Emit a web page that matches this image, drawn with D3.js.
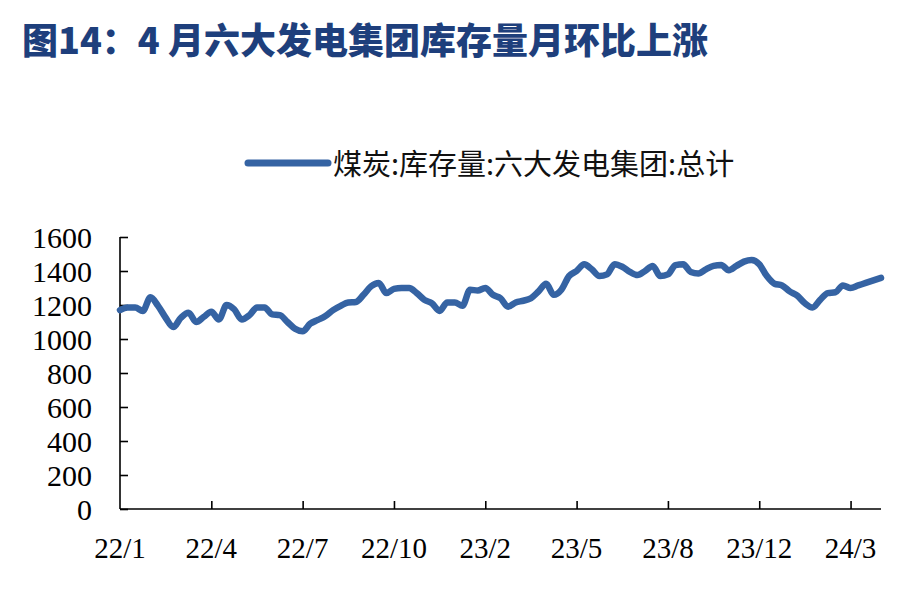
<!DOCTYPE html>
<html><head><meta charset="utf-8">
<script src="https://cdn.jsdelivr.net/npm/d3@7"></script>
<style>html,body{margin:0;padding:0;background:#fff;}svg{display:block;}</style>
</head><body>
<svg id="chart" width="922" height="596"></svg>
<script>
const titleText = "图14：4 月六大发电集团库存量月环比上涨";
const seriesName = "煤炭:库存量:六大发电集团:总计";
const tickLabels = ["22/1","22/4","22/7","22/10","23/2","23/5","23/8","23/12","24/3"];
const pointsPerTick = 12;
const yTicks = [0,200,400,600,800,1000,1200,1400,1600];
const values = [
 1170,1185,1185,1165,1245,1195,1125,1070,1125,1155,1100,1130,
 1160,1115,1200,1175,1115,1140,1185,1185,1145,1140,1100,1060,
 1045,1090,1112,1135,1170,1195,1215,1218,1260,1310,1330,1270,
 1295,1300,1300,1270,1230,1210,1165,1215,1215,1195,1290,1285,
 1300,1260,1240,1190,1215,1225,1240,1280,1325,1260,1290,1370,
 1400,1440,1410,1370,1380,1440,1425,1395,1376,1400,1430,1370,
 1380,1435,1440,1394,1385,1410,1430,1435,1405,1430,1455,1465,
 1440,1370,1325,1315,1280,1255,1210,1185,1230,1270,1275,1315,
 1300,1315,1330,1345,1360
];

(function () {
const svg = d3.select("#chart");
const mLeft = 120, mRight = 881, mTop = 237, mBottom = 509;
const lineColor = "#3563a3";

const x = d3.scaleLinear().domain([0, values.length - 1]).range([mLeft, mRight]);
const y = d3.scaleLinear().domain([0, 1600]).range([mBottom, mTop]);

// title
svg.append("text").attr("x", 22).attr("y", 54)
  .attr("font-family", "'Noto Sans CJK SC', sans-serif")
  .attr("font-weight", 900).attr("font-size", 36)
  .attr("fill", "#1e3f7c").text(titleText);

// legend
svg.append("line").attr("x1", 248).attr("x2", 328).attr("y1", 163).attr("y2", 163)
  .attr("stroke", lineColor).attr("stroke-width", 7).attr("stroke-linecap", "round");
svg.append("text").attr("x", 333).attr("y", 175)
  .attr("font-family", "'Noto Sans CJK SC', sans-serif")
  .attr("font-size", 29).attr("fill", "#111").text(seriesName);

// y axis
const yAxis = d3.axisRight(y).tickValues(yTicks).tickSize(8).tickFormat("");
const yg = svg.append("g").attr("transform", `translate(${mLeft},0)`).call(yAxis);
yg.select(".domain").attr("d", `M0,${mTop}V${mBottom}`);
yg.selectAll("path,line").attr("stroke", "#000").attr("stroke-width", 1.6);
svg.append("g").selectAll("text").data(yTicks).join("text")
  .attr("x", 92).attr("y", d => y(d)).attr("dy", "0.35em")
  .attr("text-anchor", "end")
  .attr("font-family", "'Liberation Serif', 'Times New Roman', serif")
  .attr("font-size", 30).attr("fill", "#000").text(d => d);

// x axis
const xTickIdx = tickLabels.map((_, i) => i * pointsPerTick);
const xAxis = d3.axisTop(x).tickValues(xTickIdx).tickSize(8).tickFormat("");
const xg = svg.append("g").attr("transform", `translate(0,${mBottom})`).call(xAxis);
xg.select(".domain").attr("d", `M${mLeft},0H${mRight}`);
xg.selectAll("path,line").attr("stroke", "#000").attr("stroke-width", 1.6);
xg.selectAll(".tick").filter(d => d === 0).remove();
svg.append("g").selectAll("text").data(tickLabels).join("text")
  .attr("x", (d, i) => x(xTickIdx[i])).attr("y", 558)
  .attr("text-anchor", "middle")
  .attr("font-family", "'Liberation Serif', 'Times New Roman', serif")
  .attr("font-size", 29).attr("fill", "#000").text(d => d);

// line
const line = d3.line().x((d, i) => x(i)).y(d => y(d)).curve(d3.curveMonotoneX);
svg.append("path").datum(values).attr("d", line)
  .attr("fill", "none").attr("stroke", lineColor).attr("stroke-width", 6.5)
  .attr("stroke-linejoin", "round").attr("stroke-linecap", "round");
})();
</script>
</body></html>
